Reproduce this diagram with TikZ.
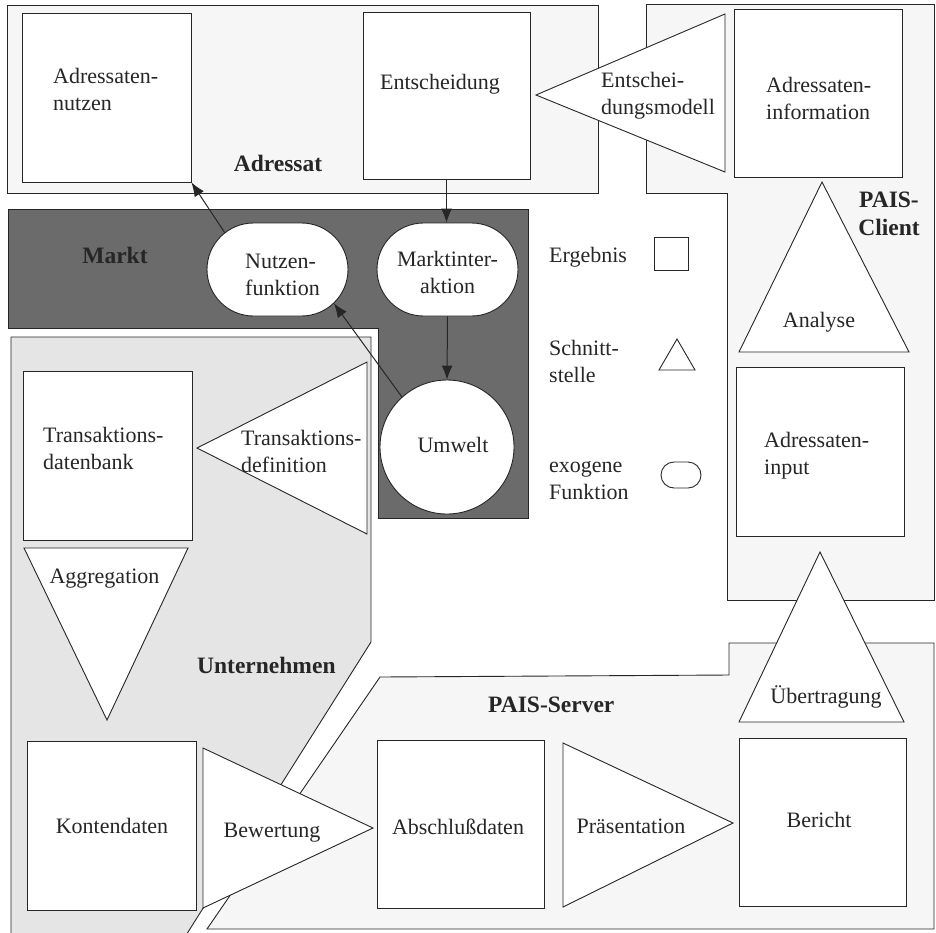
\documentclass[tikz,border=0pt]{standalone}
\usepackage{fontspec}
\setmainfont{Liberation Serif}
\usetikzlibrary{shapes.misc,arrows.meta}
\definecolor{lite}{gray}{0.965}
\definecolor{unt}{gray}{0.9}
\definecolor{dark}{gray}{0.42}
\definecolor{ink}{gray}{0.15}
\newcommand{\twol}[2]{\vtop{\hbox{#1}\hbox{#2}}}
\newcommand{\twoc}[2]{\vtop{\halign{\hfil##\hfil\cr#1\cr#2\cr}}}
\begin{document}
\begin{tikzpicture}[x=1pt,y=-1pt,
  txt/.style={font=\fontsize{22}{27}\selectfont, text=ink, inner sep=0pt},
  bld/.style={font=\fontsize{23.5}{28}\selectfont\bfseries, text=ink, inner sep=0pt},
  region/.style={draw=ink, line width=0.9pt},
  res/.style={draw=ink, fill=white, line width=0.9pt, rectangle, inner sep=0pt},
  iface/.style={draw=ink, fill=white, line width=0.9pt, line join=miter},
  exo/.style={draw=ink, fill=white, line width=0.9pt, rounded rectangle, inner sep=0pt},
  arr/.style={draw=ink, line width=1pt, -{Latex[length=14pt,width=11pt]}}]
\useasboundingbox (0,0) rectangle (936,932);

% regions
\draw[region, fill=lite] (7,5) rectangle (598,193);
\draw[region, fill=lite] (646,4) -- (934,4) -- (934,600) -- (727,600) -- (727,193) -- (646,193) -- cycle;
\draw[region, fill=dark] (8,209) -- (528,209) -- (528,518) -- (378,518) -- (378,328) -- (8,328) -- cycle;
\fill[unt] (11,940) -- (11,337) -- (371,337) -- (371,642) -- (183,940) -- cycle;
\draw[region] (11,940) -- (11,337) -- (371,337) -- (371,642) -- (183,940);
\draw[region, fill=lite] (380,677) -- (729,675) -- (729,643) -- (934,643) -- (934,929) -- (207,929) -- cycle;

% result boxes
\node[res, minimum width=169pt, minimum height=169pt] (adrnutzen) at (106.5,97.5) {};
\node[res, minimum width=167pt, minimum height=167pt] (entsch) at (446.5,95.5) {};
\node[res, minimum width=168pt, minimum height=168pt] (adrinfo) at (818,93) {};
\node[res, minimum width=168pt, minimum height=169pt] (adrinput) at (820,451.5) {};
\node[res, minimum width=167pt, minimum height=168pt] (bericht) at (822.5,822) {};
\node[res, minimum width=167pt, minimum height=168pt] (abschluss) at (460.5,824) {};
\node[res, minimum width=169pt, minimum height=169pt] (konten) at (111.5,825.5) {};
\node[res, minimum width=169pt, minimum height=169pt] (tdb) at (107.5,455.5) {};

% interfaces
\draw[iface] (536,95) -- (725,14) -- (725,172) -- cycle;
\draw[iface] (822,182) -- (909,352) -- (739,352) -- cycle;
\draw[iface] (820,552) -- (904,722) -- (739,722) -- cycle;
\draw[iface] (563,743) -- (733,823) -- (563,907) -- cycle;
\draw[iface] (203,748) -- (373,828) -- (203,908) -- cycle;
\draw[iface] (24,548) -- (188,548) -- (107,720) -- cycle;
\draw[iface] (197,448) -- (367,362) -- (367,534) -- cycle;

% exogenous functions
\node[exo, minimum width=141pt, minimum height=93pt] (nutzen) at (277.5,269.5) {};
\node[exo, minimum width=141pt, minimum height=93pt] (mi) at (447.5,269.5) {};
\node[draw=ink, fill=white, line width=0.9pt, circle, minimum size=134pt, inner sep=0pt] (umwelt) at (447,447) {};

% legend
\node[res, minimum width=34pt, minimum height=33pt] (legres) at (671,253.5) {};
\draw[iface] (677,339) -- (695,370) -- (659,370) -- cycle;
\node[exo, minimum width=40pt, minimum height=26pt] (legexo) at (681,475) {};

% arrows
\draw[arr] (nutzen.145) -- (adrnutzen.south east);
\draw[arr] (entsch.south) -- (entsch.south |- mi.north);
\draw[arr] (mi.south) -- (umwelt.north);
\draw[arr] (umwelt.132) -- (nutzen.-31);

% texts
\node[txt, anchor=base west] (t1) at (53,83) {\twol{Adressaten-}{nutzen}};
\node[txt, anchor=base] (t2) at (440,89) {Entscheidung};
\node[txt, anchor=base west] (t3) at (601,87) {\twol{Entschei-}{dungsmodell}};
\node[txt, anchor=base west] (t4) at (766,92) {\twol{Adressaten-}{information}};
\node[bld, anchor=base] (t5) at (278,171) {Adressat};
\node[bld, anchor=base] (t6) at (889,207) {\twoc{PAIS-}{Client}};
\node[bld, anchor=base] (t7) at (115,263) {Markt};
\node[txt, anchor=base west] (t8) at (245,268) {\twol{Nutzen-}{funktion}};
\node[txt, anchor=base] (t9) at (447.5,266) {\twoc{Marktinter-}{aktion}};
\node[txt, anchor=base] (t10) at (453,452) {Umwelt};
\node[txt, anchor=base west] (t11) at (43,442) {\twol{Transaktions-}{datenbank}};
\node[txt, anchor=base west] (t12) at (241,445) {\twol{Transaktions-}{definition}};
\node[txt, anchor=base] (t13) at (104.5,583) {Aggregation};
\node[bld, anchor=base west] (t14) at (197,673) {Unternehmen};
\node[txt, anchor=base] (t15) at (112,833) {Kontendaten};
\node[txt, anchor=base] (t16) at (272,837) {Bewertung};
\node[txt, anchor=base] (t17) at (458,834) {Abschlußdaten};
\node[txt, anchor=base] (t18) at (631,833) {Präsentation};
\node[txt, anchor=base] (t19) at (819,827) {Bericht};
\node[bld, anchor=base west] (t20) at (488,712) {PAIS-Server};
\node[txt, anchor=base] (t21) at (826,703) {Übertragung};
\node[txt, anchor=base west] (t22) at (764,447) {\twol{Adressaten-}{input}};
\node[txt, anchor=base] (t23) at (819,327) {Analyse};
\node[txt, anchor=base west] (t24) at (549,262) {Ergebnis};
\node[txt, anchor=base west] (t25) at (549,355) {\twol{Schnitt-}{stelle}};
\node[txt, anchor=base west] (t26) at (549,472) {\twol{exogene}{Funktion}};
\end{tikzpicture}
\end{document}
